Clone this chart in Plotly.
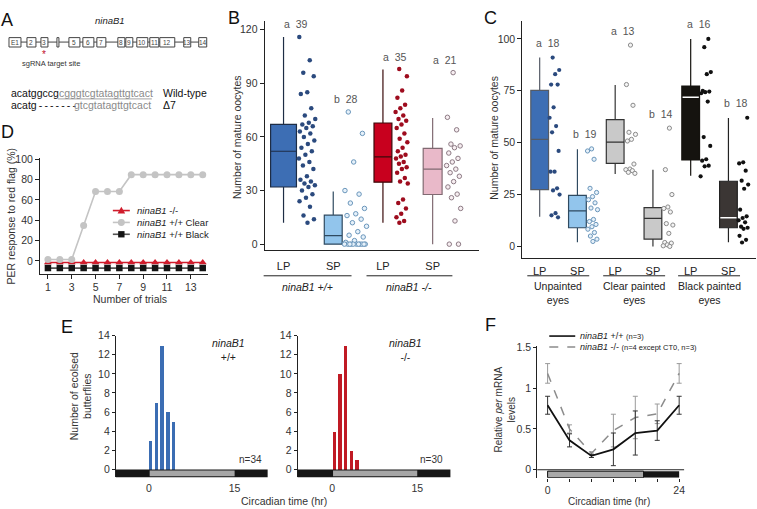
import plotly.graph_objects as go

W, H = 757, 509
FONT = "Arial, 'Liberation Sans', Helvetica, sans-serif"


def fx(x):
    return x / W


def fy(y):
    return 1 - y / H


# ---------------- DATA ----------------
# Panel A (gene model)
exon_labels = ["E1", "2", "3", "", "5", "6", "7", "8", "9", "10", "11", "12", "13", "14"]
seq_wt_black = "acatggccg"
seq_wt_gray = "cgggtcgtatagttgtcact"
seq_mut_black = "acatg"
seq_mut_gray = "gtcgtatagttgtcact"

# Panel B
b_tick_labels = ["LP", "SP", "LP", "SP"]
b_genotypes = ["ninaB1 +/+", "ninaB1 -/-"]
b_letters = ["a", "b", "a", "a"]
b_q1 = [32, 0, 34.7, 27.8]
b_median = [52, 4.8, 48.9, 42]
b_q3 = [67, 16.2, 67.8, 53.6]
b_lower = [12, 0, 12, 0]
b_upper = [116, 29.5, 97.7, 70.6]
b_lp_wt = [116, 103, 96, 94, 85, 84, 76, 72, 70, 68, 67, 66, 65, 63, 62, 60, 58, 56, 54, 52,
           50, 48, 46, 44, 42, 38, 36, 35, 34, 33, 32, 30, 28, 26, 24, 21, 16, 14, 12]
b_sp_wt = [74, 62, 46, 30, 28, 23, 20, 17, 16, 14, 12, 10, 7, 5, 4, 2, 1, 0, 0, 0, 0, 0, 0, 0,
           0, 0, 0, 0]
b_lp_ko = [98, 94, 86, 82, 78, 76, 74, 72, 70, 69, 67, 65, 62, 59, 57, 54, 52, 50, 49, 48,
           46, 45, 43, 42, 40, 37, 35, 34, 25, 23, 20, 17, 15, 13, 12]
b_sp_ko = [96, 71, 64, 56, 55, 54, 51, 48, 46, 44, 42, 40, 38, 35, 32, 28, 26, 20, 13, 0, 0]

# Panel C
c_tick_labels = ["LP", "SP", "LP", "SP", "LP", "SP"]
c_groups = ["Unpainted<br>eyes", "Clear painted<br>eyes", "Black painted<br>eyes"]
c_letters = ["a", "b", "a", "b", "a", "b"]
c_q1 = [27.4, 9, 40, 3.5, 41.7, 9]
c_median = [51.6, 17.1, 50.3, 13.5, 71.9, 13.8]
c_q3 = [75.2, 24.6, 61.1, 18.7, 77.3, 31.4]
c_lower = [14.3, 2, 34.9, 0, 34.1, 2]
c_upper = [91, 46.8, 77.8, 37, 100, 61.9]
c_unp_lp = [91, 85, 83, 78, 78, 67, 62, 58, 55, 46, 36, 36, 28, 27, 25, 16, 15, 14]
c_unp_sp = [47, 46, 42, 28, 26, 24, 22.5, 21, 18.5, 17.7, 13, 12, 10.6, 9.5, 8.3, 6.7, 5, 3.5, 2.4]
c_clr_lp = [97, 78, 68, 55, 54, 51.6, 50.8, 39.7, 37.3, 37, 36.5, 35.7, 35.2]
c_clr_sp = [57, 37, 25, 19, 18.3, 16.6, 11, 10.3, 6.3, 1.9, 1.6, 0.8, 0.3, 0]
c_blk_lp = [100, 96, 84, 83, 75, 74.6, 74.3, 73.8, 69.8, 52.7, 48.4, 42, 41.3, 38.9, 38.6, 33.8]
c_blk_sp = [62, 40.5, 40, 36.5, 31.7, 29.8, 27.8, 17.7, 14.5, 13.7, 12.6, 11.6, 9.5, 9, 8.5,
            5.1, 3.2, 1.9]

# Panel D
d_trials = [1, 2, 3, 4, 5, 6, 7, 8, 9, 10, 11, 12, 13, 14]
d_ko = [0, 0, 0, 0, 0, 0, 0, 0, 0, 0, 0, 0, 0, 0]
d_clear = [0, 0, 0, 33.3, 66.7, 66.7, 66.7, 83.3, 83.3, 83.3, 83.3, 83.3, 83.3, 83.3]
d_black = [0, 0, 0, 0, 0, 0, 0, 0, 0, 0, 0, 0, 0, 0]
d_names = ["ninaB1 -/-", "ninaB1 +/+ Clear", "ninaB1 +/+ Black"]

# Panel E
e_hours = [0, 1, 2, 3, 4]
e_wt = [3, 7, 13, 6, 5]
e_ko = [4, 10, 13, 2, 1]

# Panel F
f_ct = [0, 4, 8, 12, 16, 20, 24]
f_wt = [0.79, 0.36, 0.17, 0.25, 0.45, 0.48, 0.79]
f_wt_err = [0.11, 0.08, 0.02, 0.2, 0.27, 0.12, 0.11]
f_ko = [1.18, 0.5, 0.2, 0.48, 0.64, 0.685, 1.18]
f_ko_err = [0.12, 0.05, 0.02, 0.2, 0.26, 0.12, 0.12]

# ---------------- STYLE / LAYOUT HELPERS ----------------
TICKC = "#333"


def jitter(n, lo, hi, seed):
    return [lo + (hi - lo) * ((k * 0.61803398875 + seed) % 1.0) for k in range(n)]


annotations = []
shapes = []


def ann(x, y, text, size=10.5, color="#222", xanchor="center", yanchor="middle",
        angle=0, xref="paper", yref="paper", paper=True):
    if paper:
        x, y = fx(x), fy(y)
    annotations.append(dict(x=x, y=y, xref=xref, yref=yref, text=text, showarrow=False,
                            font=dict(family=FONT, size=size, color=color),
                            xanchor=xanchor, yanchor=yanchor, textangle=angle,
                            borderpad=0))


def pline(x0, y0, x1, y1, color="#222", width=1, dash="solid"):
    shapes.append(dict(type="line", xref="paper", yref="paper", x0=fx(x0), y0=fy(y0),
                       x1=fx(x1), y1=fy(y1), line=dict(color=color, width=width, dash=dash)))


def prect(x0, y0, x1, y1, fill, line="#444", lw=1):
    shapes.append(dict(type="rect", xref="paper", yref="paper", x0=fx(x0), y0=fy(y0),
                       x1=fx(x1), y1=fy(y1), fillcolor=fill, line=dict(color=line, width=lw)))


fig = go.Figure()

# ---------------- Panel A ----------------
ann(7, 14, "A", size=18, color="#111")
ann(110, 15, "<i>ninaB1</i>", size=9.5, color="#222")
pline(9, 36.5, 207, 36.5, color="#444", width=1)
exon_px = [(9, 21), (27, 36), (41, 48), (57, 59), (69, 80), (83, 94), (97, 106), (118, 125),
           (126, 133), (137, 148), (150, 159), (160, 175), (184, 191), (199, 207)]
for (x0, x1), lab in zip(exon_px, exon_labels):
    prect(x0, 32, x1, 41.5, "white", line="#444", lw=1)
    if lab:
        ann((x0 + x1) / 2, 37, lab, size=6.5, color="#444")
ann(44, 49.5, "*", size=10, color="#c0102a")
ann(51, 58, "sgRNA target site", size=7.5, color="#333")
GRAY_SEQ = "#8a8a8a"
ann(10, 88.5, f"{seq_wt_black}<span style='color:{GRAY_SEQ}'>{seq_wt_gray}</span>",
    size=10.5, color="#111", xanchor="left")
pline(58, 94, 152, 94, color=GRAY_SEQ, width=0.8)
ann(162, 88.5, "Wild-type", size=10.5, color="#111", xanchor="left")
ann(10, 100, seq_mut_black + "\u2009-" * 7, size=10.5, color="#111", xanchor="left")
ann(152, 100, seq_mut_gray, size=10.5, color=GRAY_SEQ, xanchor="right")
ann(162, 100, "\u03947", size=10.5, color="#111", xanchor="left")

# ---------------- Panel B ----------------
ann(234, 12, "B", size=18, color="#111")
b_fill = ["#3d6eb4", "#92c5ec", "#c8001e", "#e9b9c9"]
b_line = ["#1e2d45", "#2f4a60", "#3a0a0a", "#806a72"]
b_width = [0.52, 0.36, 0.36, 0.38]
b_pts = [b_lp_wt, b_sp_wt, b_lp_ko, b_sp_ko]
b_pt_style = [
    dict(color="#2b4a7e", size=4.5),
    dict(color="#e6f1fa", size=4.5, line=dict(color="#6a96bb", width=1)),
    dict(color="#9e0c1e", size=4.5),
    dict(color="#f7eef1", size=4.5, line=dict(color="#8c7a84", width=1)),
]
b_jit = [(0.3, 0.64), (0.22, 0.68), (0.25, 0.5), (0.28, 0.58)]
for i in range(4):
    fig.add_trace(go.Box(x=[i], q1=[b_q1[i]], median=[b_median[i]], q3=[b_q3[i]],
                         lowerfence=[b_lower[i]], upperfence=[b_upper[i]], width=b_width[i],
                         whiskerwidth=0, fillcolor=b_fill[i],
                         line=dict(color=b_line[i], width=1.2), boxpoints=False,
                         xaxis="x", yaxis="y", hoverinfo="skip"))
    lo, hi = b_jit[i]
    fig.add_trace(go.Scatter(x=[i + j for j in jitter(len(b_pts[i]), lo, hi, 0.13 * i + 0.05)],
                             y=b_pts[i], mode="markers", marker=b_pt_style[i],
                             xaxis="x", yaxis="y", hoverinfo="skip"))
    annotations.append(dict(x=i + 0.25, y=max(b_pts[i]) + 7, xref="x", yref="y",
                            text=f"{b_letters[i]}\u00a0 {len(b_pts[i])}", showarrow=False,
                            font=dict(family=FONT, size=10.5, color="#555"),
                            xanchor="center", yanchor="middle"))
ann(238, 133, "Number of mature oocytes", size=10.5, color="#333", angle=-90)
for (x0, x1), g in zip([(264, 352), (367, 453)], b_genotypes):
    pline(x0, 273, x1, 273, color="#222", width=1)
    ann((x0 + x1) / 2, 284.5, f"<i>{g}</i>", size=10.5, color="#222")

# ---------------- Panel C ----------------
ann(491, 12, "C", size=18, color="#111")
c_fill = ["#3d6eb4", "#92c5ec", "#c9c9c9", "#c9c9c9", "#15130f", "#3b3634"]
c_line = ["#555b66", "#2f4a60", "#333333", "#333333", "#15130f", "#222222"]
c_pts = [c_unp_lp, c_unp_sp, c_clr_lp, c_clr_sp, c_blk_lp, c_blk_sp]
c_pt_style = [
    dict(color="#2b4a7e", size=4.2),
    dict(color="#e6f1fa", size=4.2, line=dict(color="#6a96bb", width=1)),
    dict(color="#f4f4f4", size=4.2, line=dict(color="#8a8a8a", width=1)),
    dict(color="#f4f4f4", size=4.2, line=dict(color="#8a8a8a", width=1)),
    dict(color="#111111", size=4.2),
    dict(color="#111111", size=4.2),
]
CW = 0.47
for i in range(6):
    fig.add_trace(go.Box(x=[i], q1=[c_q1[i]], median=[c_median[i]], q3=[c_q3[i]],
                         lowerfence=[c_lower[i]], upperfence=[c_upper[i]], width=CW,
                         whiskerwidth=0, fillcolor=c_fill[i],
                         line=dict(color=c_line[i], width=1.2), boxpoints=False,
                         xaxis="x2", yaxis="y2", hoverinfo="skip"))
    if i >= 4:
        fig.add_trace(go.Scatter(x=[i - CW / 2 + 0.02, i + CW / 2 - 0.02],
                                 y=[c_median[i], c_median[i]], mode="lines",
                                 line=dict(color="white", width=1.4),
                                 xaxis="x2", yaxis="y2", hoverinfo="skip"))
    fig.add_trace(go.Scatter(x=[i + j for j in jitter(len(c_pts[i]), 0.26, 0.54, 0.11 * i + 0.3)],
                             y=c_pts[i], mode="markers", marker=c_pt_style[i],
                             xaxis="x2", yaxis="y2", hoverinfo="skip"))
    annotations.append(dict(x=i + 0.21, y=max(c_pts[i]) + 7, xref="x2", yref="y2",
                            text=f"{c_letters[i]}\u00a0 {len(c_pts[i])}", showarrow=False,
                            font=dict(family=FONT, size=10.5, color="#555"),
                            xanchor="center", yanchor="middle"))
ann(495, 133, "Number of mature oocytes", size=10.5, color="#333", angle=-90)
for cx, g in zip([559, 635, 710], c_groups):
    pline(cx - 31, 273, cx + 31, 273, color="#222", width=1)
    ann(cx, 290, g, size=10.5, color="#222")

# ---------------- Panel D ----------------
ann(8, 127, "D", size=18, color="#111")
d_offsets = [-1.5, 1.5, -7]
d_series = [d_ko, d_clear, d_black]
d_colors = ["#d01c2c", "#c4c4c4", "#141414"]
d_lines = ["#d01c2c", "#c4c4c4", "#555555"]
d_symbols = ["triangle-up", "circle", "square"]
d_sizes = [7, 7, 6.5]
for s, off, col, lc, sym, sz in zip(d_series, d_offsets, d_colors, d_lines, d_symbols, d_sizes):
    fig.add_trace(go.Scatter(x=d_trials, y=[v + off for v in s], mode="lines+markers",
                             line=dict(color=lc, width=1.6),
                             marker=dict(color=col, symbol=sym, size=sz),
                             xaxis="x3", yaxis="y3", hoverinfo="skip"))
ann(11, 212, "PER response to red flag (%)", size=10.5, color="#333", angle=-90)
ann(130, 296, "Number of trials", size=10.5, color="#333")
# manual legend
for k, (name, col, lc) in enumerate(zip(d_names, d_colors, d_lines)):
    yy = 207 + 12 * k
    pline(113, yy, 130, yy, color=lc, width=1.6)
    cx = 121.5
    if k == 0:
        shapes.append(dict(type="path", xref="paper", yref="paper",
                           path=f"M {fx(cx-3.8)} {fy(yy+3)} L {fx(cx+3.8)} {fy(yy+3)} L {fx(cx)} {fy(yy-3.8)} Z",
                           fillcolor=col, line=dict(width=0)))
    elif k == 1:
        shapes.append(dict(type="circle", xref="paper", yref="paper", x0=fx(cx - 3.5),
                           x1=fx(cx + 3.5), y0=fy(yy + 3.5), y1=fy(yy - 3.5), fillcolor=col,
                           line=dict(width=0)))
    else:
        prect(cx - 3.2, yy - 3.2, cx + 3.2, yy + 3.2, col, line=col, lw=0)
    parts = name.split(" ", 1)
    ann(136, yy, f"<i>{parts[0]}</i> {parts[1]}", size=9.5, color="#222", xanchor="left")

# ---------------- Panel E ----------------
ann(67, 325, "E", size=18, color="#111")
for xa, ya, vals, col in [("x4", "y4", e_wt, "#3b6db3"), ("x5", "y5", e_ko, "#c01a24")]:
    fig.add_trace(go.Bar(x=e_hours, y=vals, width=0.6, offset=0, marker=dict(color=col, line=dict(width=0)),
                         xaxis=xa, yaxis=ya, hoverinfo="skip"))
    shapes.append(dict(type="rect", xref=f"{xa} domain", yref=ya, x0=0, x1=1, y0=-0.83, y1=0,
                       fillcolor="#161616", line=dict(width=0), layer="above"))
    shapes.append(dict(type="rect", xref=xa, yref=ya, x0=0.15, x1=15, y0=-0.72, y1=-0.1,
                       fillcolor="#a6a6a6", line=dict(width=0), layer="above"))
ann(81, 395, "Number of ecolsed<br>butterflies", size=10.5, color="#333", angle=-90)
ann(229, 348, "<i>ninaB1</i><br>+/+", size=10.5, color="#222")
ann(406, 348, "<i>ninaB1</i><br>-/-", size=10.5, color="#222")
ann(251, 459, "n=34", size=10, color="#333")
ann(432, 459, "n=30", size=10, color="#333")
ann(284, 501, "Circadian time (hr)", size=10.5, color="#333")

# ---------------- Panel F ----------------
ann(491, 323, "F", size=18, color="#111")
fig.add_trace(go.Scatter(x=f_ct, y=f_ko, mode="lines",
                         line=dict(color="#8c8c8c", width=1.5, dash="dash"),
                         error_y=dict(type="data", array=f_ko_err, color="#9a9a9a", thickness=1, width=2.5),
                         xaxis="x6", yaxis="y6", hoverinfo="skip"))
fig.add_trace(go.Scatter(x=f_ct, y=f_wt, mode="lines",
                         line=dict(color="#111111", width=1.8),
                         error_y=dict(type="data", array=f_wt_err, color="#333333", thickness=1, width=2.5),
                         xaxis="x6", yaxis="y6", hoverinfo="skip"))
shapes.append(dict(type="line", xref="x6 domain", yref="y6", x0=0, x1=1, y0=0, y1=0,
                   line=dict(color="#222", width=1)))
shapes.append(dict(type="rect", xref="x6", yref="y6", x0=0, x1=24, y0=-0.097, y1=-0.017,
                   fillcolor="#161616", line=dict(width=0)))
shapes.append(dict(type="rect", xref="x6", yref="y6", x0=0, x1=17.5, y0=-0.097, y1=-0.017,
                   fillcolor="#a9a9a9", line=dict(color="#161616", width=1)))
ann(506, 408, "Relative <i>per</i> mRNA<br>levels", size=10, color="#333", angle=-90)
ann(610, 501, "Circadian time (hr)", size=10, color="#333")
pline(550, 334, 576, 334, color="#111", width=1.6)
pline(550, 345, 576, 345, color="#8c8c8c", width=1.5, dash="dash")
ann(580, 334, "<i>ninaB1</i> +/+ <span style='font-size:7.5px'>(n=3)</span>", size=9,
    color="#222", xanchor="left")
ann(580, 345, "<i>ninaB1</i> -/- <span style='font-size:7.5px'>(n=4 except CT0, n=3)</span>", size=9,
    color="#222", xanchor="left")

# ---------------- AXES ----------------
base = dict(showgrid=False, zeroline=False, fixedrange=True, linecolor="#222", linewidth=1,
            tickcolor="#222", tickfont=dict(family=FONT, size=10.5, color=TICKC))

layout_axes = dict(
    xaxis=dict(base, domain=[fx(265), fx(480)], range=[-0.38, 3.94], anchor="y", showline=True,
               ticks="", tickvals=[0, 1, 2, 3], ticktext=b_tick_labels, ticklabelstandoff=6,
               tickfont=dict(family=FONT, size=11, color="#222")),
    yaxis=dict(base, domain=[fy(247), fy(15)], range=[-3.32, 125], anchor="x", showline=True,
               ticks="outside", ticklen=4, tickvals=[0, 30, 60, 90, 120]),
    xaxis2=dict(base, domain=[fx(523), 1.0], range=[-0.46, 5.73], anchor="y2", showline=True,
                ticks="", tickvals=[0, 1, 2, 3, 4, 5], ticktext=c_tick_labels, ticklabelstandoff=3,
                tickfont=dict(family=FONT, size=11, color="#222")),
    yaxis2=dict(base, domain=[fy(255), fy(15)], range=[-5.57, 108.7], anchor="x2", showline=True,
                ticks="outside", ticklen=4, tickvals=[0, 25, 50, 75, 100]),
    xaxis3=dict(base, domain=[fx(40), fx(208)], range=[0.33, 14.42], anchor="y3", showline=True,
                ticks="outside", ticklen=4, tickvals=[1, 3, 5, 7, 9, 11, 13]),
    yaxis3=dict(base, domain=[fy(271), fy(154)], range=[-12.6, 101], anchor="x3", showline=True,
                ticks="outside", ticklen=4, tickvals=[0, 20, 40, 60, 80, 100]),
    xaxis4=dict(base, domain=[fx(116), fx(268)], range=[-5.76, 20.77], anchor="y4", showline=False,
                ticks="", tickvals=[0, 15], ticklabelstandoff=3),
    yaxis4=dict(base, domain=[fy(477), fy(333.6)], range=[-0.83, 14], anchor="x4", showline=True,
                ticks="outside", ticklen=3, tickvals=[0, 2, 4, 6, 8, 10, 12, 14]),
    xaxis5=dict(base, domain=[fx(298), fx(451)], range=[-6.1, 20.85], anchor="y5", showline=False,
                ticks="", tickvals=[0, 15], ticklabelstandoff=3),
    yaxis5=dict(base, domain=[fy(477), fy(333.6)], range=[-0.83, 14], anchor="x5", showline=True,
                ticks="outside", ticklen=3, tickvals=[0, 2, 4, 6, 8, 10, 12, 14]),
    xaxis6=dict(base, domain=[fx(538), fx(685)], range=[-1.88, 24.9], anchor="y6", showline=False,
                ticks="outside", ticklen=3, tickvals=[0, 4, 8, 12, 16, 20, 24],
                ticktext=["0", "", "", "", "", "", "24"]),
    yaxis6=dict(base, domain=[fy(477.3), fy(343.7)], range=[-0.097, 1.52], anchor="x6", showline=True,
                ticks="outside", ticklen=3, tickvals=[0, 0.5, 1, 1.5], ticktext=["0", "0.5", "1", "1.5"]),
)

fig.update_layout(
    width=W, height=H, margin=dict(l=0, r=0, t=0, b=0),
    paper_bgcolor="white", plot_bgcolor="white",
    showlegend=False, boxmode="overlay", bargap=0,
    font=dict(family=FONT, size=10.5, color="#222"),
    annotations=annotations, shapes=shapes,
    **layout_axes,
)

fig.write_html(
    "out.html",
    config={"displayModeBar": False, "responsive": False},
    post_script="document.body.style.margin='0';document.body.style.padding='0';"
                "document.documentElement.style.overflow='hidden';",
)
